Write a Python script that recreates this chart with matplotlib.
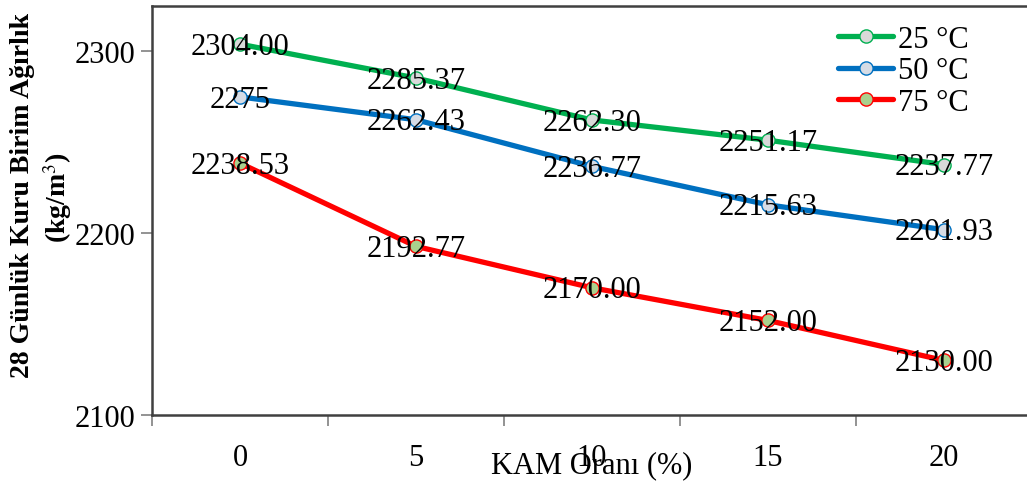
import matplotlib
matplotlib.use("Agg")
import matplotlib.pyplot as plt
import numpy as np

# KAM ratio (%) and 28-day dry unit weight per curing temperature
kam = ["0", "5", "10", "15", "20"]
w25 = [2304.00, 2285.37, 2262.30, 2251.17, 2237.77]
w50 = [2275.00, 2262.43, 2236.77, 2215.63, 2201.93]
w75 = [2238.53, 2192.77, 2170.00, 2152.00, 2130.00]
# decimals shown on each data label
dec25 = [2, 2, 2, 2, 2]
dec50 = [0, 2, 2, 2, 2]
dec75 = [2, 2, 2, 2, 2]
names = ["25 °C", "50 °C", "75 °C"]

plt.rcParams["font.family"] = ["Liberation Serif", "DejaVu Serif"]
plt.rcParams["mathtext.fontset"] = "stix"

fig = plt.figure(figsize=(10.27, 4.85), dpi=100)
ax = fig.add_axes([152 / 1027, 69 / 485, 880 / 1027, 409 / 485])

x = np.arange(len(kam))
series = [
    (w25, dec25, "#00b050", "#d9d9d9"),
    (w50, dec50, "#0070c0", "#d6dce5"),
    (w75, dec75, "#ff0000", "#a9d18e"),
]
for (vals, decs, col, face), name in zip(series, names):
    ax.plot(x, vals, color=col, lw=3.8, marker="o", ms=9.5,
            mfc=face, mec=col, mew=1.0, label=name, zorder=3,
            solid_capstyle="round")
    for xi, v, d in zip(x, vals, decs):
        ax.text(xi, v - 1.2, f"{v:.{d}f}", ha="center", va="center",
                fontsize=22, color="black", zorder=5)

ax.set_xlim(-0.5, 4.5)
ax.set_ylim(2100, 2325)
ax.set_yticks([2100, 2200, 2300])
ax.set_xticks(x)
ax.set_xticklabels(kam)
ax.set_xticks(np.arange(-0.5, 5, 1), minor=True)
ax.tick_params(axis="x", which="major", length=0, pad=20, labelsize=22)
ax.tick_params(axis="x", which="minor", length=8, width=1.2, color="#808080")
ax.tick_params(axis="y", length=8, width=1.2, color="#808080", labelsize=22, pad=4)

for side in ["left", "bottom", "top", "right"]:
    ax.spines[side].set_color("#404040")
    ax.spines[side].set_linewidth(1.8)

fig.text(592 / 1027, 1 - 466 / 485, "KAM Oranı (%)", ha="center", va="center",
         fontsize=22)
fig.text(23 / 1027, 1 - 195 / 485, "28 Günlük Kuru Birim Ağırlık",
         rotation=90, ha="center", va="center", fontsize=20, fontweight="bold")
fig.text(58 / 1027, 1 - 198 / 485, "(kg/m$^3$)",
         rotation=90, ha="center", va="center", fontsize=20, fontweight="bold")

leg = ax.legend(loc="upper left", bbox_to_anchor=(838 / 1027, 1 - 26 / 485),
                bbox_transform=fig.transFigure, frameon=False, fontsize=22,
                handlelength=1.8, handletextpad=0.15, labelspacing=0.08,
                borderpad=0, borderaxespad=0)

fig.savefig("out.png", dpi=100)
